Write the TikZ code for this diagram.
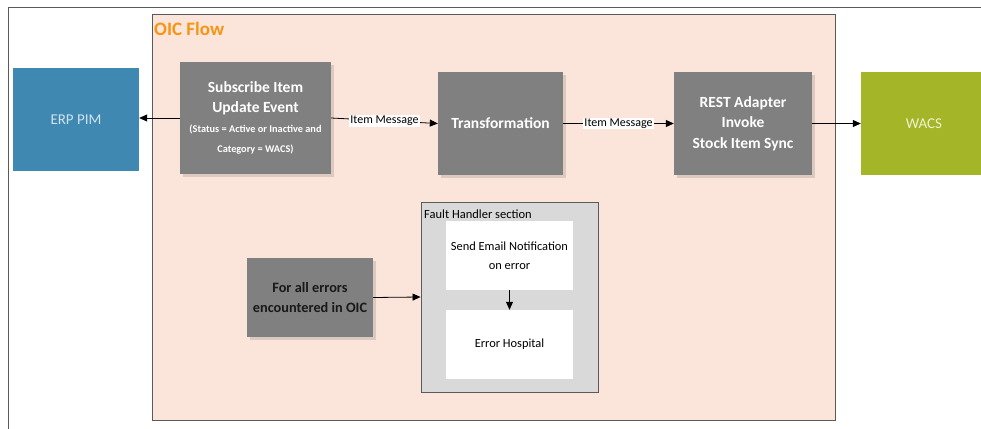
\documentclass[tikz,border=0pt]{standalone}
\usepackage{fontspec}
\setmainfont{Carlito}
\usetikzlibrary{arrows.meta,shadows}
\definecolor{pinkbg}{RGB}{251,229,218}
\definecolor{boxgray}{RGB}{128,128,128}
\definecolor{erpblue}{RGB}{63,136,178}
\definecolor{erptext}{RGB}{208,227,239}
\definecolor{wacsgreen}{RGB}{165,181,40}
\definecolor{wacstext}{RGB}{238,242,208}
\definecolor{oicorange}{RGB}{246,148,20}
\definecolor{faultgray}{RGB}{217,217,217}
\definecolor{linegray}{RGB}{90,90,90}
\tikzset{
  graybox/.style={fill=boxgray, draw=none, text=white, align=center,
    font=\bfseries\fontsize{15.5}{20.5}\selectfont, inner sep=0pt,
    drop shadow={shadow xshift=3pt, shadow yshift=-3pt, opacity=0.12, fill=black}},
  sysbox/.style={draw=none, align=center, font=\fontsize{15}{18}\selectfont, inner sep=0pt},
  whitebox/.style={fill=white, draw=none, align=center, font=\fontsize{12.4}{19}\selectfont, inner sep=0pt},
  conn/.style={draw=black, line width=0.8pt, -{Triangle[length=8pt,width=7pt]}},
  msglabel/.style={fill=white, inner sep=1pt, font=\fontsize{12}{14}\selectfont}
}
\begin{document}
\begin{tikzpicture}[x=1pt,y=-1pt]
\clip (0,0) rectangle (981,428);
\useasboundingbox (0,0) rectangle (981,428);
% outer partial frame
\draw[linegray, line width=0.9pt] (8,440) -- (8,7) -- (990,7);
% OIC flow container
\node[draw=linegray, fill=pinkbg, line width=0.9pt, minimum width=683pt, minimum height=406pt, inner sep=0pt] (oic) at (493.5,217) {};
\node[anchor=west, text=oicorange, font=\bfseries\fontsize{19}{22}\selectfont, inner sep=0pt] (oiclabel) at (154,29) {OIC Flow};
% system boxes
\node[sysbox, fill=erpblue, text=erptext, minimum width=126pt, minimum height=103pt] (erp) at (76,119.5) {ERP PIM};
\node[sysbox, fill=wacsgreen, text=wacstext, minimum width=126pt, minimum height=103pt] (wacs) at (924,123.5) {WACS};
% flow boxes
\node[graybox, minimum width=151pt, minimum height=112pt] (sub) at (255.5,118) {Subscribe Item\\Update Event\\[-1pt]{\fontsize{10.3}{20}\selectfont (Status = Active or Inactive and}\\{\fontsize{10.3}{20}\selectfont Category = WACS)}};
\node[graybox, minimum width=125pt, minimum height=103pt] (trans) at (500.5,123.5) {Transformation};
\node[graybox, minimum width=138pt, minimum height=103pt] (rest) at (743,123.5) {REST Adapter\\Invoke\\Stock Item Sync};
% error section
\node[graybox, text=black!90, font=\bfseries\fontsize{14.3}{20}\selectfont, minimum width=126pt, minimum height=79pt] (err) at (310,297.5) {For all errors\\encountered in OIC};
\node[draw=linegray, fill=faultgray, line width=0.9pt, minimum width=177pt, minimum height=190pt, inner sep=0pt] (fault) at (509.5,297) {};
\node[anchor=west, font=\fontsize{12.5}{14}\selectfont, inner sep=0pt] (faultlabel) at (424,214) {Fault Handler section};
\node[whitebox, minimum width=127pt, minimum height=69pt] (email) at (509.5,255.5) {Send Email Notification\\on error};
\node[whitebox, minimum width=127pt, minimum height=69pt] (hosp) at (509.5,344.5) {Error Hospital};
% connectors
\draw[conn] (sub.west) -- (sub.west -| erp.east);
\draw[conn] (sub.east) -- node[msglabel] {Item Message} (trans.west);
\draw[conn] (trans.east) -- node[msglabel] {Item Message} (rest.west);
\draw[conn] (rest.east) -- (wacs.west);
\draw[conn] (err.east) -- (fault.west);
\draw[conn] (email.south) -- (hosp.north);
\end{tikzpicture}
\end{document}
